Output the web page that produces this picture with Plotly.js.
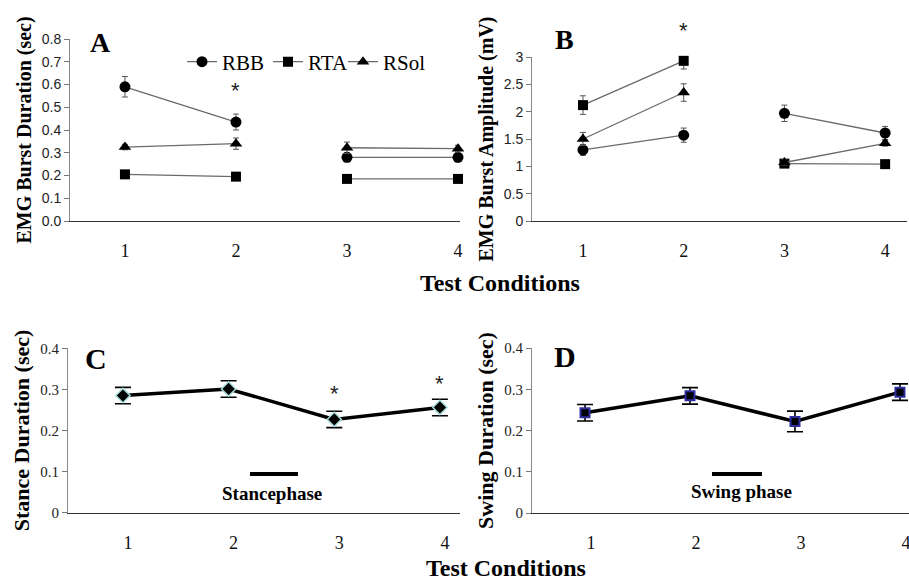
<!DOCTYPE html>
<html>
<head>
<meta charset="utf-8">
<script src="https://cdn.plot.ly/plotly-3.0.1.min.js"></script>
<style>html,body{margin:0;padding:0;background:#fff;}#chart{width:909px;height:583px;}</style>
</head>
<body>
<div id="chart"></div>
<script>
// ---- data ----
const conditions = [1, 2, 3, 4];
const tickLabels = ['1', '2', '3', '4'];

// Panel A: EMG burst duration (sec)
const rbbDur = [0.59, 0.435, 0.28, 0.28];
const rbbDurErr = [0.045, 0.035, 0.02, 0.02];
const rtaDur = [0.205, 0.195, 0.185, 0.185];
const rtaDurErr = [0.01, 0.01, 0.01, 0.01];
const rsolDur = [0.325, 0.34, 0.322, 0.318];
const rsolDurErr = [0.012, 0.025, 0.025, 0.015];

// Panel B: EMG burst amplitude (mV)
const rbbAmp = [1.3, 1.57, 1.97, 1.61];
const rbbAmpErr = [0.1, 0.13, 0.15, 0.12];
const rtaAmp = [2.12, 2.93, 1.05, 1.04];
const rtaAmpErr = [0.17, 0.15, 0.05, 0.04];
const rsolAmp = [1.5, 2.35, 1.07, 1.42];
const rsolAmpErr = [0.12, 0.16, 0.05, 0.05];

// Panel C: stance duration (sec)
const stanceDur = [0.285, 0.301, 0.227, 0.256];
const stanceErr = [0.02, 0.02, 0.02, 0.02];

// Panel D: swing duration (sec)
const swingDur = [0.243, 0.284, 0.222, 0.293];
const swingErr = [0.02, 0.02, 0.025, 0.02];

const seriesNames = ['RBB', 'RTA', 'RSol'];

// ---- styles ----
const SERIF = 'Liberation Serif, Times New Roman, serif';
const SANS = 'Liberation Sans, Arial, sans-serif';
const symbols = {RBB: 'circle', RTA: 'square', RSol: 'triangle-up'};
const sizes = {RBB: 11, RTA: 10, RSol: 11};
const legendIds = {RBB: 'legend', RTA: 'legend2', RSol: 'legend3'};

const traces = [];
function emgSeries(name, vals, errs, xa, ya, showLeg) {
  const segs = [[0, 2], [2, 4]];
  segs.forEach((s, i) => {
    traces.push({
      type: 'scatter', mode: 'lines+markers', name: name,
      x: conditions.slice(s[0], s[1]), y: vals.slice(s[0], s[1]),
      xaxis: xa, yaxis: ya, cliponaxis: false,
      showlegend: showLeg && i === 0, legendgroup: name, legend: legendIds[name],
      line: {color: '#6a6a6a', width: 1.3},
      marker: {symbol: symbols[name], size: sizes[name], color: '#000'},
      error_y: {type: 'data', array: errs.slice(s[0], s[1]), color: '#555', thickness: 1, width: 3}
    });
  });
}
emgSeries('RBB', rbbDur, rbbDurErr, 'x', 'y', true);
emgSeries('RTA', rtaDur, rtaDurErr, 'x', 'y', true);
emgSeries('RSol', rsolDur, rsolDurErr, 'x', 'y', true);
emgSeries('RBB', rbbAmp, rbbAmpErr, 'x2', 'y2', false);
emgSeries('RTA', rtaAmp, rtaAmpErr, 'x2', 'y2', false);
emgSeries('RSol', rsolAmp, rsolAmpErr, 'x2', 'y2', false);

traces.push({
  type: 'scatter', mode: 'lines+markers', name: 'Stance', showlegend: false,
  x: conditions, y: stanceDur, xaxis: 'x3', yaxis: 'y3', cliponaxis: false,
  line: {color: '#000', width: 3.5},
  marker: {symbol: 'diamond', size: 11, color: '#000', line: {color: '#a6dcdc', width: 1.5}},
  error_y: {type: 'data', array: stanceErr, color: '#000', thickness: 1.6, width: 8}
});
traces.push({
  type: 'scatter', mode: 'lines+markers', name: 'Swing', showlegend: false,
  x: conditions, y: swingDur, xaxis: 'x4', yaxis: 'y4', cliponaxis: false,
  line: {color: '#000', width: 3.5},
  marker: {symbol: 'square', size: 9, color: '#000', line: {color: '#2e2ea0', width: 2}},
  error_y: {type: 'data', array: swingErr, color: '#000', thickness: 1.6, width: 8}
});

function xAxis(domain, range, shift) {
  return {
    domain: domain, range: range,
    tickmode: 'array', tickvals: conditions, ticktext: tickLabels,
    ticks: '', ticklabelstandoff: 13, ticklabelshift: shift || 0, ticklabeloverflow: 'allow',
    showgrid: false, zeroline: false, showline: true, linecolor: '#333', linewidth: 1.2,
    tickfont: {family: SERIF, size: 18, color: '#111'}, fixedrange: true
  };
}
function yAxis(domain, range, dtick, title, tfont, tsize, fmt) {
  return {
    domain: domain, range: range, dtick: dtick, tick0: 0,
    ticks: 'outside', ticklen: 5, tickcolor: '#777', tickformat: fmt,
    showgrid: false, zeroline: false, showline: true, linecolor: '#888', linewidth: 1,
    tickfont: {family: tfont, size: tsize, color: '#222'},
    title: {text: title, standoff: 4, font: {family: SERIF, size: title.indexOf('EMG') === 0 ? 20 : 22, color: '#000', weight: 'bold'}},
    fixedrange: true
  };
}
function legendAt(px) {
  return {
    orientation: 'h', x: px / 909, y: 1 - 62 / 583, xanchor: 'left', yanchor: 'middle',
    font: {family: SERIF, size: 21, color: '#000'}, itemwidth: 30,
    bgcolor: 'rgba(0,0,0,0)', borderwidth: 0
  };
}
function label(text, x, y, size) {
  return {text: '<b>' + text + '</b>', xref: 'paper', yref: 'paper', x: x / 909, y: 1 - y / 583,
    xanchor: 'center', yanchor: 'middle', showarrow: false, font: {family: SERIF, size: size, color: '#000'}};
}
function star(xa, ya, x, y, shift) {
  return {text: '*', xref: xa, yref: ya, x: x, y: y, yshift: shift, xanchor: 'center', yanchor: 'middle',
    showarrow: false, font: {family: SANS, size: 22, color: '#222'}};
}

const layout = {
  width: 909, height: 583,
  margin: {l: 0, r: 0, t: 0, b: 0},
  paper_bgcolor: '#fff', plot_bgcolor: 'rgba(0,0,0,0)',
  showlegend: true,
  legend: legendAt(182),
  legend2: legendAt(268),
  legend3: legendAt(343),
  xaxis: Object.assign(xAxis([70/909, 460/909], [0.505, 4.018]), {anchor: 'y'}),
  yaxis: Object.assign(yAxis([1 - 221/583, 1 - 39/583], [0, 0.8], 0.1, 'EMG Burst Duration (sec)', SANS, 14, '.1f'), {anchor: 'x'}),
  xaxis2: Object.assign(xAxis([532/909, 907/909], [0.494, 4.217]), {anchor: 'y2'}),
  yaxis2: Object.assign(yAxis([1 - 221/583, 1 - 57/583], [0, 3], 0.5, 'EMG Burst Amplitude (mV)', SANS, 14, ''), {anchor: 'x2'}),
  xaxis3: Object.assign(xAxis([68/909, 460/909], [0.48, 4.19], 5), {anchor: 'y3'}),
  yaxis3: Object.assign(yAxis([1 - 512.7/583, 1 - 348.3/583], [0, 0.4], 0.1, 'Stance Duration (sec)', SERIF, 15, ''), {anchor: 'x3'}),
  xaxis4: Object.assign(xAxis([532/909, 909/909], [0.495, 4.086], 6), {anchor: 'y4'}),
  yaxis4: Object.assign(yAxis([1 - 513/583, 1 - 348/583], [0, 0.4], 0.1, 'Swing Duration (sec)', SERIF, 15, ''), {anchor: 'x4'}),
  annotations: [
    label('A', 100, 43, 28),
    label('B', 564, 40, 28),
    label('C', 96, 358, 30),
    label('D', 565, 356, 30),
    star('x', 'y', conditions[1], rbbDur[1], 32),
    star('x2', 'y2', conditions[1], rtaAmp[1], 30),
    star('x3', 'y3', conditions[2], stanceDur[2], 26),
    star('x3', 'y3', conditions[3], stanceDur[3], 24),
    label('Stancephase', 272, 493, 19),
    label('Swing phase', 741, 491, 19),
    label('Test Conditions', 500, 283, 24),
    label('Test Conditions', 506, 568, 24)
  ],
  shapes: [
    {type: 'line', xref: 'paper', yref: 'paper', x0: 250/909, x1: 298/909, y0: 1 - 474/583, y1: 1 - 474/583, line: {color: '#000', width: 4}},
    {type: 'line', xref: 'paper', yref: 'paper', x0: 712/909, x1: 762/909, y0: 1 - 474/583, y1: 1 - 474/583, line: {color: '#000', width: 4}}
  ]
};

Plotly.newPlot('chart', traces, layout, {staticPlot: true, displayModeBar: false});
</script>
</body>
</html>
